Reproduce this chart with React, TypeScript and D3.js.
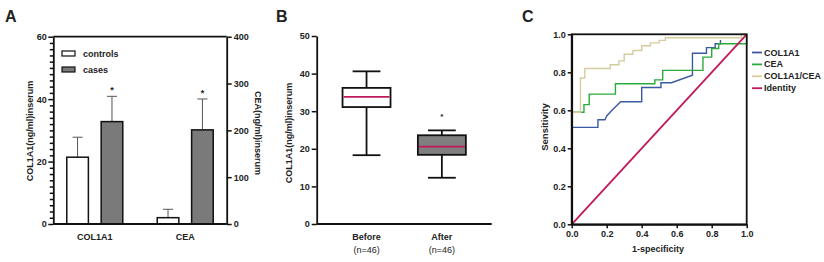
import { useEffect, useRef } from "react";
import * as d3 from "d3";

// panel A data
const groups = ["COL1A1", "CEA"];
const subgroups = ["controls", "cases"];
const controlsMean = [21.4, 13.5];
const controlsUpper = [27.8, 31.4];
const casesMean = [32.8, 201];
const casesUpper = [40.9, 267];

// panel B data
const boxGroups = ["Before", "After"];
const boxN = ["(n=46)", "(n=46)"];
const boxMin = [18.3, 12.3];
const boxQ1 = [31.1, 18.4];
const boxMedian = [33.8, 20.6];
const boxQ3 = [36.2, 23.6];
const boxMax = [40.6, 24.9];
const boxStar = [null, 29];

// panel C data, ROC step curves [fpr, sensitivity]
const rocCol1a1: [number, number][] = [
  [0, 0.51], [0.15, 0.51], [0.15, 0.55], [0.19, 0.55], [0.2, 0.57], [0.23, 0.6], [0.28, 0.645],
  [0.4, 0.645], [0.4, 0.72], [0.51, 0.72], [0.51, 0.745], [0.57, 0.745], [0.69, 0.785],
  [0.69, 0.9], [0.77, 0.9], [0.77, 0.93], [0.82, 0.93], [0.82, 0.95], [0.85, 0.95],
  [0.85, 0.97],
];
const rocCea: [number, number][] = [
  [0, 0.59], [0.07, 0.59], [0.07, 0.63], [0.1, 0.63], [0.1, 0.685], [0.25, 0.685],
  [0.25, 0.74], [0.475, 0.74], [0.475, 0.76], [0.52, 0.76], [0.52, 0.81], [0.75, 0.81],
  [0.75, 0.88], [0.8, 0.88], [0.8, 0.925], [0.84, 0.925], [0.84, 0.95], [1, 0.95], [1, 1],
];
const rocCombined: [number, number][] = [
  [0, 0.59], [0.05, 0.59], [0.05, 0.77], [0.075, 0.77], [0.075, 0.82], [0.22, 0.82],
  [0.22, 0.84], [0.27, 0.84], [0.27, 0.86], [0.3, 0.86], [0.3, 0.895], [0.35, 0.895],
  [0.35, 0.915], [0.4, 0.915], [0.4, 0.94], [0.45, 0.94], [0.45, 0.955], [0.5, 0.955],
  [0.5, 0.968], [0.535, 0.968], [0.535, 0.982], [0.97, 0.982], [0.97, 1], [1, 1],
];
const rocIdentity: [number, number][] = [[0, 0], [1, 1]];
const rocNames = ["COL1A1", "CEA", "COL1A1/CEA", "Identity"];
const rocColors = ["#3b59a3", "#2bab3e", "#d6cb9e", "#c2185b"];

const font = "'Liberation Sans', Arial, sans-serif";

const App = () => {
  const aLeft = useRef<SVGGElement>(null);
  const aRight = useRef<SVGGElement>(null);
  const bLeft = useRef<SVGGElement>(null);
  const cLeft = useRef<SVGGElement>(null);
  const cBottom = useRef<SVGGElement>(null);

  // A scales
  const x0 = d3.scaleBand().domain(groups).range([53.3, 226.7]).paddingInner(0.381).paddingOuter(0.149);
  const x1 = d3.scaleBand().domain(subgroups).range([0, x0.bandwidth()]).paddingInner(0.372);
  const yA = d3.scaleLinear().domain([0, 60]).range([224, 36.7]);
  const yA2 = d3.scaleLinear().domain([0, 400]).range([224, 36.7]);
  const yFor = (i: number) => (i === 0 ? yA : yA2);

  // B scales
  const xB = d3.scaleBand().domain(boxGroups).range([316.7, 491.7]).paddingInner(0.363).paddingOuter(0.343);
  const yB = d3.scaleLinear().domain([0, 50]).range([224, 36]);

  // C scales
  const xC = d3.scaleLinear().domain([0, 1]).range([571.7, 746.7]);
  const yC = d3.scaleLinear().domain([0, 1]).range([224.3, 34.3]);
  const line = d3.line<[number, number]>().x((d) => xC(d[0])).y((d) => yC(d[1]));
  const curves = [rocCol1a1, rocCea, rocCombined, rocIdentity];

  useEffect(() => {
    const style = (g: d3.Selection<SVGGElement, unknown, null, undefined>) => {
      g.selectAll("path").attr("stroke-width", 1.8).attr("stroke", "#111");
      g.selectAll("line").attr("stroke-width", 1.5).attr("stroke", "#111");
      g.selectAll("text")
        .attr("font-size", 9)
        .attr("font-weight", "bold")
        .attr("font-family", font)
        .attr("fill", "#222");
    };
    const minor = d3.range(0, 61, 2);
    d3.select(aLeft.current!)
      .call(
        d3.axisLeft(yA).tickValues(minor).tickSize(3.5).tickPadding(3)
          .tickFormat((d) => ((d as number) % 20 === 0 ? String(d) : "")).tickSizeOuter(0)
      )
      .call(style);
    d3.select(aLeft.current!)
      .selectAll<SVGLineElement, number>(".tick line")
      .attr("x2", (d) => (d % 20 === 0 ? -5 : -3.5));
    d3.select(aRight.current!)
      .call(d3.axisRight(yA2).tickValues([0, 100, 200, 300, 400]).tickSize(5).tickPadding(2).tickSizeOuter(0))
      .call(style);
    d3.select(bLeft.current!)
      .call(d3.axisLeft(yB).ticks(5).tickSize(5).tickPadding(2).tickSizeOuter(0))
      .call(style);
    d3.select(cLeft.current!)
      .call(d3.axisLeft(yC).ticks(5).tickFormat(d3.format(".1f")).tickSize(4).tickPadding(2).tickSizeOuter(0))
      .call(style);
    d3.select(cBottom.current!)
      .call(d3.axisBottom(xC).ticks(5).tickFormat(d3.format(".1f")).tickSize(4).tickPadding(2).tickSizeOuter(0))
      .call(style);
  }, []);

  const txt = { fontFamily: font, fontWeight: "bold" as const, fill: "#222" };

  return (
    <svg width={824} height={262} style={{ position: "absolute", left: 0, top: 0, background: "#fff" }}>
      {/* panel letters */}
      <text x={5} y={22} fontSize={16} {...txt}>A</text>
      <text x={276} y={22} fontSize={16} {...txt}>B</text>
      <text x={522} y={22} fontSize={16} {...txt}>C</text>

      {/* ---- Panel A ---- */}
      {groups.map((g, i) => {
        const y = yFor(i);
        const means = [controlsMean[i], casesMean[i]];
        const uppers = [controlsUpper[i], casesUpper[i]];
        return subgroups.map((s, j) => {
          const bx = (x0(g) ?? 0) + (x1(s) ?? 0);
          const bw = x1.bandwidth();
          const cx = bx + bw / 2;
          return (
            <g key={g + s}>
              <line x1={cx} x2={cx} y1={y(means[j])} y2={y(uppers[j])} stroke="#555" strokeWidth={1} />
              <line x1={cx - 5} x2={cx + 5} y1={y(uppers[j])} y2={y(uppers[j])} stroke="#555" strokeWidth={1} />
              <rect x={bx} y={y(means[j])} width={bw} height={224 - y(means[j])}
                fill={j === 0 ? "#fff" : "#7a7a7a"} stroke="#111" strokeWidth={1.5} />
              {j === 1 && (
                <text x={cx} y={y(uppers[j]) - 3} fontSize={9} textAnchor="middle" {...txt}>*</text>
              )}
            </g>
          );
        });
      })}
      <line x1={53.3} x2={226.7} y1={36.7} y2={36.7} stroke="#111" strokeWidth={1.8} />
      <line x1={53.3} x2={226.7} y1={224} y2={224} stroke="#111" strokeWidth={1.8} />
      <g ref={aLeft} transform="translate(53.3,0)" />
      <g ref={aRight} transform="translate(226.7,0)" />
      {groups.map((g) => (
        <text key={g} x={(x0(g) ?? 0) + x0.bandwidth() / 2} y={240} fontSize={9} textAnchor="middle" {...txt}>{g}</text>
      ))}
      {/* legend */}
      {subgroups.map((s, j) => (
        <g key={s}>
          <rect x={62} y={51 + j * 16} width={13} height={5} fill={j === 0 ? "#fff" : "#7a7a7a"} stroke="#111" strokeWidth={1.2} />
          <text x={83} y={57 + j * 16} fontSize={9} {...txt}>{s}</text>
        </g>
      ))}
      <text transform="translate(33,131) rotate(-90)" fontSize={9} textAnchor="middle" {...txt}>COL1A1(ng/ml)inserum</text>
      <text transform="translate(255,133) rotate(90)" fontSize={9} textAnchor="middle" {...txt}>CEA(ng/ml)inserum</text>

      {/* ---- Panel B ---- */}
      {boxGroups.map((g, i) => {
        const bx = xB(g) ?? 0;
        const bw = xB.bandwidth();
        const cx = bx + bw / 2;
        const cap = bw * 0.29;
        return (
          <g key={g}>
            <line x1={cx} x2={cx} y1={yB(boxMax[i])} y2={yB(boxQ3[i])} stroke="#111" strokeWidth={1.8} />
            <line x1={cx} x2={cx} y1={yB(boxQ1[i])} y2={yB(boxMin[i])} stroke="#111" strokeWidth={1.8} />
            <line x1={cx - cap} x2={cx + cap} y1={yB(boxMax[i])} y2={yB(boxMax[i])} stroke="#111" strokeWidth={1.8} />
            <line x1={cx - cap} x2={cx + cap} y1={yB(boxMin[i])} y2={yB(boxMin[i])} stroke="#111" strokeWidth={1.8} />
            <rect x={bx} y={yB(boxQ3[i])} width={bw} height={yB(boxQ1[i]) - yB(boxQ3[i])}
              fill={i === 0 ? "#fff" : "#7f7f7f"} stroke="#111" strokeWidth={1.8} />
            <line x1={bx + 1} x2={bx + bw - 1} y1={yB(boxMedian[i])} y2={yB(boxMedian[i])} stroke="#c2185b" strokeWidth={1.8} />
            {boxStar[i] != null && (
              <text x={cx} y={yB(boxStar[i] as number) + 4} fontSize={8} textAnchor="middle" {...txt}>*</text>
            )}
            <text x={cx} y={240} fontSize={9} textAnchor="middle" {...txt}>{g}</text>
            <text x={cx} y={253} fontSize={9} textAnchor="middle" {...txt} fontWeight="normal">{boxN[i]}</text>
          </g>
        );
      })}
      <line x1={316.7} x2={491.7} y1={224} y2={224} stroke="#111" strokeWidth={1.8} />
      <g ref={bLeft} transform="translate(316.7,0)" />
      <text transform="translate(292,133) rotate(-90)" fontSize={9} textAnchor="middle" {...txt}>COL1A1(ng/ml)inserum</text>

      {/* ---- Panel C ---- */}
      {curves.map((c, i) => (
        <path key={i} d={line(c) ?? ""} fill="none" stroke={rocColors[i]} strokeWidth={i === 3 ? 1.8 : 1.4} />
      ))}
      <rect x={571.7} y={34.3} width={175} height={190} fill="none" stroke="#111" strokeWidth={1.8} />
      <g ref={cLeft} transform="translate(571.7,0)" />
      <g ref={cBottom} transform="translate(0,224.3)" />
      <text x={658} y={252} fontSize={9} textAnchor="middle" {...txt}>1-specificity</text>
      <text transform="translate(548,127) rotate(-90)" fontSize={9.5} textAnchor="middle" {...txt}>Sensitivity</text>
      {rocNames.map((n, i) => (
        <g key={n}>
          <line x1={752} x2={762} y1={52.5 + i * 11.9} y2={52.5 + i * 11.9} stroke={rocColors[i]} strokeWidth={1.8} />
          <text x={764} y={55.5 + i * 11.9} fontSize={9} {...txt}>{n}</text>
        </g>
      ))}
    </svg>
  );
};

export default App;
